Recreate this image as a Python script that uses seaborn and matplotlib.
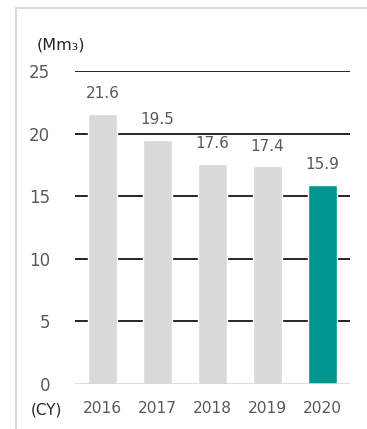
import matplotlib
matplotlib.use("Agg")
import matplotlib.pyplot as plt
from matplotlib.lines import Line2D
import seaborn as sns

years = ["2016", "2017", "2018", "2019", "2020"]
values = [21.6, 19.5, 17.6, 17.4, 15.9]
bar_colors = ["#d9d9d9", "#d9d9d9", "#d9d9d9", "#d9d9d9", "#00968f"]
y_ticks = [0, 5, 10, 15, 20, 25]

sns.set_style("white")
plt.rcParams["font.family"] = ["DejaVu Sans"]
text_color = "#595959"

fig = plt.figure(figsize=(3.67, 4.29), dpi=100)
ax = fig.add_axes([0.2044, 0.1049, 0.7493, 0.7296])

# horizontal grid lines drawn behind the bars
for t in y_ticks[1:]:
    ax.axhline(t, color="#000000", lw=1.2, zorder=0, snap=True)
ax.axhline(0, color="#d9d9d9", lw=1.2, zorder=3)

sns.barplot(x=years, y=values, hue=years, palette=bar_colors, legend=False,
            width=0.53, saturation=1, ax=ax, zorder=2)

for i, v in enumerate(values):
    ax.annotate(f"{v:.1f}", (i, v), xytext=(0, 14.5), textcoords="offset points",
                ha="center", va="center", fontsize=11, color=text_color)

ax.set_ylim(0, 25)
ax.set_xlim(-0.5, 4.5)
ax.set_yticks(y_ticks)
ax.set_yticklabels([str(t) for t in y_ticks])
ax.tick_params(axis="y", length=0, pad=18, labelsize=12, labelcolor=text_color)
ax.tick_params(axis="x", length=0, pad=12, labelsize=11.2, labelcolor=text_color)
ax.set_xlabel("")
ax.set_ylabel("")
for s in ax.spines.values():
    s.set_visible(False)

fig.text(37 / 367, 1 - 45 / 429, "(Mm₃)", ha="left", va="center",
         fontsize=11.5, color="#262626")
fig.text(46 / 367, 1 - 410 / 429, "(CY)", ha="center", va="center",
         fontsize=11, color="#262626")

# thin frame around the panel
fig.add_artist(Line2D([16 / 367, 1], [1 - 8 / 429, 1 - 8 / 429],
                      transform=fig.transFigure, color="#d6d6d6", lw=1.2))
fig.add_artist(Line2D([16 / 367, 16 / 367], [0, 1 - 8 / 429],
                      transform=fig.transFigure, color="#d6d6d6", lw=1.2))

fig.savefig("out.png", dpi=100)
